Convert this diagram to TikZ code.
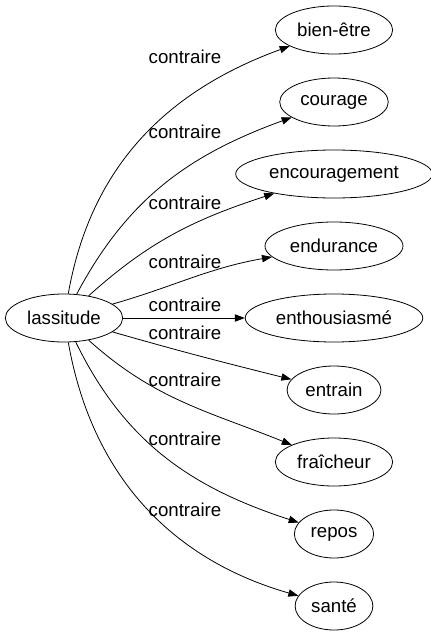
\documentclass[tikz,border=0pt]{standalone}
\usepackage{fontspec}
\setmainfont{Liberation Sans}
\usetikzlibrary{shapes.geometric, arrows.meta, positioning}

\begin{document}
\begin{tikzpicture}[x=0.75pt, y=-0.75pt, ->, >={Triangle[length=7.5pt, width=5.5pt]},
        semithick, node distance=54pt, font=\fontsize{14}{16}\selectfont,
        word/.style={ellipse, draw, minimum height=36pt, inner xsep=3.5pt},
        rel/.style={inner sep=0pt}]
        \useasboundingbox (0,0) rectangle (431,635);

        % Source word
        \node[word] (lass) at (64,318) {lassitude};

        % Opposite words
        \node[word] (bien) at (334,30) {bien-être};
        \node[word, below of=bien] (cour) {courage};
        \node[word, below of=cour] (enco) {encouragement};
        \node[word, below of=enco] (endu) {endurance};
        \node[word, below of=endu] (enth) {enthousiasmé};
        \node[word, below of=enth] (entr) {entrain};
        \node[word, below of=entr] (frai) {fraîcheur};
        \node[word, below of=frai] (repo) {repos};
        \node[word, below of=repo] (sant) {santé};

        % Relation labels
        \node[rel] (r1) at (185,57) {contraire};
        \node[rel] (r2) at (185,132) {contraire};
        \node[rel] (r3) at (185,203) {contraire};
        \node[rel] (r4) at (185,262) {contraire};
        \node[rel] (r5) at (185,305) {contraire};
        \node[rel] (r6) at (185,333) {contraire};
        \node[rel] (r7) at (185,380) {contraire};
        \node[rel] (r8) at (185,439) {contraire};
        \node[rel] (r9) at (185,510) {contraire};

        % Relations
        \draw (lass) edge[out=80, in=200] (bien)
            (lass) edge[out=62, in=200] (cour)
            (lass) edge[out=42, in=198] (enco)
            (lass) edge[out=16, in=190] (endu)
            (lass) edge (enth)
            (lass) edge[out=-16, in=166] (entr)
            (lass) edge[out=-42, in=158] (frai)
            (lass) edge[out=-64, in=162] (repo)
            (lass) edge[out=-80, in=164] (sant);
    \end{tikzpicture}
\end{document}
